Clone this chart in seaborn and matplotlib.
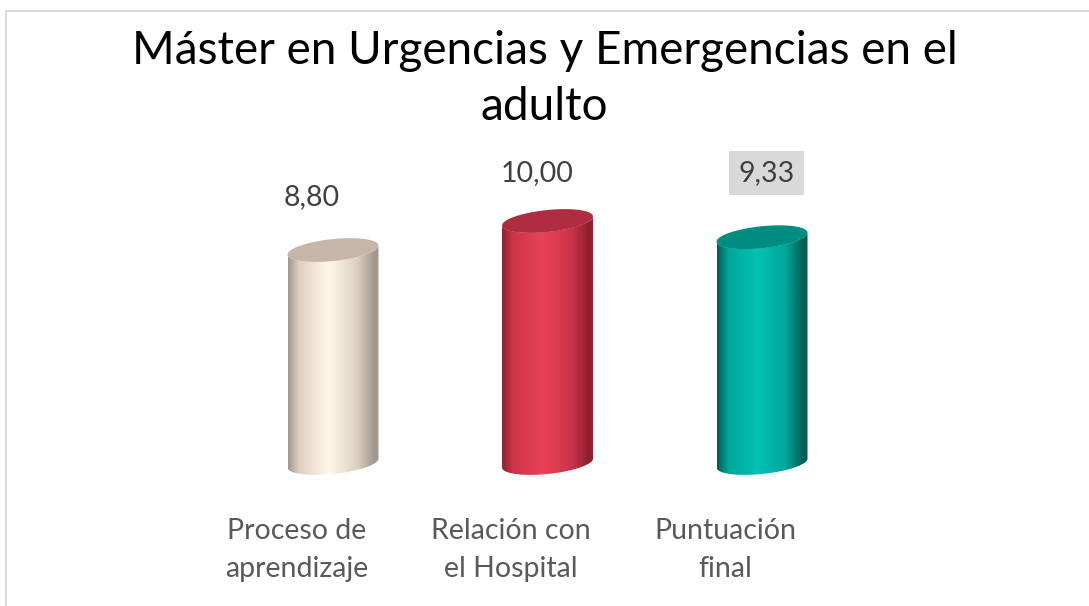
"""
Cylinder-style bar chart: Máster en Urgencias y Emergencias en el adulto.
Saves out.png (1089x606).
"""
import numpy as np
import matplotlib
matplotlib.use("Agg")
import matplotlib.pyplot as plt
from matplotlib.colors import LinearSegmentedColormap
from matplotlib.patches import Polygon
from matplotlib.lines import Line2D
import seaborn as sns

TITLE = "Máster en Urgencias y Emergencias en el\nadulto"
categories = ["Proceso de\naprendizaje", "Relación con\nel Hospital", "Puntuación\nfinal"]
scores = [8.80, 10.00, 9.33]
score_labels = ["8,80", "10,00", "9,33"]

# edge, mid, highlight, cap colour per cylinder
shades = [
    ("#A1978E", "#DED0C2", "#FFF8EA", "#C6B6AA"),
    ("#8E2130", "#CD3449", "#EA4258", "#B02C40"),
    ("#005E56", "#00A698", "#00C3B4", "#008C81"),
]
label_offsets = [(-0.10, 2.19), (-0.05, 1.98), (0.02, 2.65)]

sns.set_style("white")
plt.rcParams["font.family"] = ["Lato", "DejaVu Sans"]

W, H = 1089, 606
PX_CAT, PX_UNIT = 214.5, 24.2   # pixels per category step / per score unit
X0_PX, Y0_PX = 333, 463         # pixel position of first bar centre / zero line

fig = plt.figure(figsize=(W / 100, H / 100), dpi=100)
ax = fig.add_axes([0, 0, 1, 1])

sns.barplot(x=categories, y=scores, hue=categories, palette=[s[2] for s in shades],
            width=0.424, legend=False, ax=ax, zorder=2)

xlim = (-X0_PX / PX_CAT, (W - X0_PX) / PX_CAT)
ylim = (-(H - Y0_PX) / PX_UNIT, Y0_PX / PX_UNIT)

b = 11 / PX_UNIT      # ellipse half-height in data units
slope = 0.88          # tilt of the ellipses

bars = sorted(ax.patches, key=lambda p: p.get_x())
for i, patch in enumerate(bars):
    x0, w, v = patch.get_x(), patch.get_width(), patch.get_height()
    cx, a = x0 + w / 2, w / 2
    edge, mid, light, cap = shades[i]

    t = np.linspace(np.pi, 2 * np.pi, 80)
    bx = cx + a * np.cos(t)
    by = b * np.sin(t) + slope * (bx - cx)
    tt = t[::-1]
    tx = cx + a * np.cos(tt)
    ty = v + b * np.sin(tt) + slope * (tx - cx)
    body = Polygon(np.column_stack([np.r_[bx, tx], np.r_[by, ty]]),
                   closed=True, facecolor="none", edgecolor="none")
    ax.add_patch(body)
    patch.set_clip_path(body)

    cmap = LinearSegmentedColormap.from_list(
        f"cyl{i}", [(0, edge), (0.12, mid), (0.45, light), (0.76, mid), (0.95, edge), (1, edge)])
    grad = np.linspace(0, 1, 256)[None, :]
    im = ax.imshow(grad, cmap=cmap, extent=(cx - a, cx + a, -1, v + 1),
                   aspect="auto", origin="lower", zorder=3, interpolation="bilinear")
    im.set_clip_path(body)

    tc = np.linspace(0, 2 * np.pi, 120)
    ex = cx + a * np.cos(tc)
    ey = v + b * np.sin(tc) + slope * (ex - cx)
    ax.add_patch(Polygon(np.column_stack([ex, ey]), closed=True,
                         facecolor=cap, edgecolor="none", zorder=4))

    dx, dy = label_offsets[i]
    bbox = None
    if i == 2:
        bbox = dict(boxstyle="square,pad=0.32", facecolor="#D9D9D9", edgecolor="none")
    ax.text(cx + dx, v + dy, score_labels[i], ha="center", va="center",
            fontsize=20.5, color="#404040", bbox=bbox, zorder=5)

    ax.text(cx - 0.17, -3.6, categories[i], ha="center", va="center",
            fontsize=20.5, color="#595959", linespacing=1.6)

ax.set_xlim(*xlim)
ax.set_ylim(*ylim)
ax.set_axis_off()

fig.text(0.5, 1 - 79 / H, TITLE, ha="center", va="center",
         fontsize=33, color="black", linespacing=1.42)

# chart frame (top and left edges visible)
fig.add_artist(Line2D([5.5 / W, 1], [1 - 11 / H, 1 - 11 / H], color="#D9D9D9", lw=1.5))
fig.add_artist(Line2D([5.5 / W, 5.5 / W], [0, 1 - 11 / H], color="#D9D9D9", lw=1.5))

fig.savefig("out.png", dpi=100)
plt.close(fig)
